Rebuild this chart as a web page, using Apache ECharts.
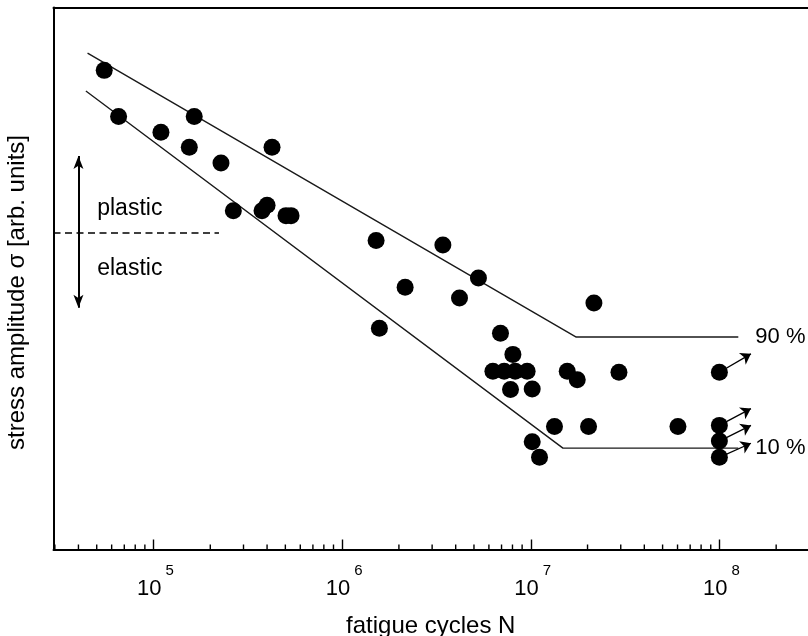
<!DOCTYPE html>
<html>
<head>
<meta charset="utf-8">
<title>Fatigue S-N diagram</title>
<script src="https://cdn.jsdelivr.net/npm/echarts@6/dist/echarts.min.js"></script>
<style>
  html, body { margin: 0; padding: 0; background: #fff; }
  #chart { width: 808px; height: 636px; }
</style>
</head>
<body>
<div id="chart"></div>
<script>
// Fatigue test results: cycles to failure vs. stress amplitude (arbitrary units)
const cyclesN = [
  5.48e4, 6.53e4, 1.095e5, 1.644e5, 1.548e5, 2.279e5, 4.25e5, 2.65e5, 3.76e5, 4.0e5,
  5.04e5, 5.36e5, 1.514e6, 3.42e6, 5.28e6, 2.158e6, 4.19e6, 1.576e6, 6.91e6, 2.162e7,
  8.04e6, 6.30e6, 7.23e6, 8.27e6, 9.57e6, 7.81e6, 1.018e7, 1.561e7, 1.764e7, 2.935e7,
  1.336e7, 2.025e7, 6.03e7, 1.018e7, 1.113e7, 1.0e8, 1.0e8, 1.0e8, 1.0e8
];
const stressAmp = [
  88.4, 79.9, 77.0, 79.9, 74.2, 71.3, 74.2, 62.5, 62.5, 63.5,
  61.6, 61.6, 57.0, 56.2, 50.1, 48.4, 46.4, 40.8, 39.9, 45.5,
  36.0, 32.9, 32.9, 32.9, 32.9, 29.5, 29.6, 32.9, 31.3, 32.7,
  22.7, 22.7, 22.7, 19.9, 17.0, 32.7, 22.9, 20.0, 17.0
];

// Run-outs (specimens that did not fail): arrows leave the 1e8 points
const runoutFromN = 1.0e8;
const runoutFromS = [32.7, 22.9, 20.0, 17.0];
const runoutToN = 1.47e8;
const runoutToS = [36.1, 26.0, 22.9, 19.6];

// Failure probability bands
const upperCurveN = [4.47e4, 1.742e7, 1.26e8];
const upperCurveS = [91.6, 39.2, 39.2];
const lowerCurveN = [4.38e4, 1.481e7, 1.26e8];
const lowerCurveS = [84.6, 18.7, 18.7];
const curveLabels = ['90 %', '10 %'];

// Plastic / elastic regime annotation
const regimeN = 5.03e4;
const regimeLabels = ['plastic', 'elastic'];
const regimeLabelS = [62.8, 51.9];
const regimeBoundaryS = 58.4;
const regimeBoundaryEndN = 2.224e5;
const regimeArrowN = 4.0e4;
const regimeArrowS = [72.6, 44.6];

// Axis extent and tick layout
const xMin = 2.95e4, xMax = 2.95e8;
const yMin = 0, yMax = 100;
const minorMultipliers = [2, 3, 4, 5, 6, 7, 8, 9];
const minorDecades = [1e4, 1e5, 1e6, 1e7, 1e8];
const minorTicks = [];
minorDecades.forEach(d => minorMultipliers.forEach(m => {
  const v = d * m;
  if (v > xMin && v < xMax) minorTicks.push(v);
}));

const FONT = '"Liberation Sans", Arial, Helvetica, sans-serif';
const INK = '#000';

const chart = echarts.init(document.getElementById('chart'), null, { renderer: 'canvas' });

const option = {
  backgroundColor: '#fff',
  animation: false,
  grid: { left: 53.5, right: 0, top: 7.5, bottom: 86.5, containLabel: false, outerBoundsMode: 'none' },
  xAxis: [
    {
      type: 'log', logBase: 10, min: xMin, max: xMax, position: 'bottom',
      splitNumber: 4,
      axisLine: { show: true, lineStyle: { color: INK, width: 2 } },
      axisTick: { show: true, inside: true, length: 10, lineStyle: { color: INK, width: 1.4 } },
      splitLine: { show: false },
      minorTick: { show: false },
      axisLabel: {
        margin: 14,
        showMinLabel: false, showMaxLabel: false,
        formatter: v => {
          const lg = Math.log10(v);
          const e = Math.round(lg);
          if (Math.abs(lg - e) > 1e-6) return '';
          return '{b|10}{s|' + e + '}';
        },
        rich: {
          b: { fontSize: 22, fontFamily: FONT, color: INK, lineHeight: 51, padding: [0, 0, 0, 4] },
          s: { fontSize: 15, fontFamily: FONT, color: INK, lineHeight: 15, verticalAlign: 'top', padding: [0, 0, 0, 4] }
        }
      },
      name: 'fatigue cycles N',
      nameLocation: 'middle',
      nameGap: 65,
      nameTextStyle: { fontSize: 24, fontFamily: FONT, color: INK }
    },
    {
      type: 'log', logBase: 10, min: xMin, max: xMax, position: 'top',
      axisLine: { show: true, lineStyle: { color: INK, width: 2 } },
      axisTick: { show: false }, axisLabel: { show: false }, splitLine: { show: false }
    }
  ],
  yAxis: {
    type: 'value', min: yMin, max: yMax,
    axisLine: { show: true, lineStyle: { color: INK, width: 2 } },
    axisTick: { show: false }, axisLabel: { show: false }, splitLine: { show: false },
    name: 'stress amplitude σ [arb. units]',
    nameLocation: 'middle',
    nameRotate: 90,
    nameGap: 24,
    nameTextStyle: { fontSize: 24, fontFamily: FONT, color: INK, padding: [0, 28, 0, 0] }
  },
  series: [
    {
      // minor log ticks along the bottom axis
      type: 'custom',
      silent: true,
      clip: false,
      data: minorTicks.map(v => [v, yMin]),
      encode: { x: 0, y: 1 },
      renderItem: (params, api) => {
        const p = api.coord([api.value(0), api.value(1)]);
        return {
          type: 'line',
          shape: { x1: p[0], y1: p[1], x2: p[0], y2: p[1] - 5 },
          style: { stroke: INK, lineWidth: 1.4 }
        };
      },
      z: 5
    },
    {
      type: 'line',
      name: curveLabels[0],
      data: upperCurveN.map((n, i) => [n, upperCurveS[i]]),
      showSymbol: false, symbol: 'none',
      lineStyle: { color: '#1a1a1a', width: 1.4 },
      endLabel: { show: true, formatter: curveLabels[0], distance: 17, fontSize: 22, fontFamily: FONT, color: INK },
      z: 2
    },
    {
      type: 'line',
      name: curveLabels[1],
      data: lowerCurveN.map((n, i) => [n, lowerCurveS[i]]),
      showSymbol: false, symbol: 'none',
      lineStyle: { color: '#1a1a1a', width: 1.4 },
      endLabel: { show: true, formatter: curveLabels[1], distance: 17, fontSize: 22, fontFamily: FONT, color: INK },
      z: 2
    },
    {
      type: 'scatter',
      data: cyclesN.map((n, i) => [n, stressAmp[i]]),
      symbol: 'circle',
      symbolSize: 17,
      itemStyle: { color: INK, opacity: 1 },
      z: 3
    },
    {
      type: 'lines',
      coordinateSystem: 'cartesian2d',
      silent: true,
      data: runoutFromS.map((s, i) => ({ coords: [[runoutFromN, s], [runoutToN, runoutToS[i]]] })),
      symbol: ['none', 'arrow'],
      symbolSize: [6, 10],
      lineStyle: { color: INK, width: 1.3, opacity: 1 },
      z: 4
    },
    {
      // regime labels
      type: 'scatter',
      silent: true,
      symbolSize: 0,
      data: regimeLabels.map((t, i) => ({ value: [regimeN, regimeLabelS[i]], name: t })),
      label: {
        show: true, position: 'right', distance: 0,
        formatter: p => p.name,
        fontSize: 23, fontFamily: FONT, color: '#000', opacity: 1
      },
      itemStyle: { opacity: 1 },
      z: 4
    },
    {
      // regime boundary and stress range arrow
      type: 'line',
      data: [],
      silent: true,
      markLine: {
        silent: true,
        animation: false,
        label: { show: false },
        data: [
          [
            { coord: [xMin, regimeBoundaryS], symbol: 'none', lineStyle: { type: [7, 4.5], width: 1.5, color: INK } },
            { coord: [regimeBoundaryEndN, regimeBoundaryS], symbol: 'none' }
          ],
          [
            { coord: [regimeArrowN, regimeArrowS[0]], symbol: 'arrow', symbolSize: [7.5, 13], lineStyle: { type: 'solid', width: 2, color: INK } },
            { coord: [regimeArrowN, regimeArrowS[1]], symbol: 'arrow', symbolSize: [7.5, 13] }
          ]
        ]
      }
    }
  ]
};

chart.setOption(option);
</script>
</body>
</html>
